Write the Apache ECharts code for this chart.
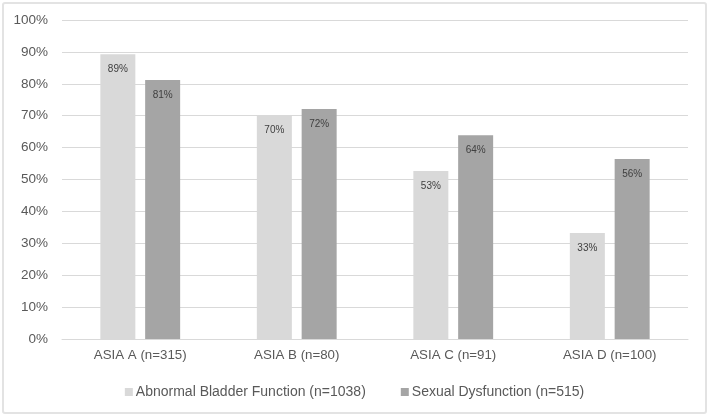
<!DOCTYPE html>
<html><head><meta charset="utf-8">
<script src="https://cdn.jsdelivr.net/npm/echarts@6/dist/echarts.min.js"></script>
<style>
html,body{margin:0;padding:0;background:#fff;}
#frame{position:absolute;left:2px;top:2px;width:701px;height:408px;border:2px solid #e3e3e3;border-radius:3px;}
#c{position:absolute;left:0;top:0;width:709px;height:416px;}
</style></head>
<body><div id="frame"></div><div id="c"></div>
<script>
const categories = ['ASIA A (n=315)', 'ASIA B (n=80)', 'ASIA C (n=91)', 'ASIA D (n=100)'];
const bladder = [89.3, 70.2, 52.7, 33.2];
const sexual = [81.2, 72.1, 63.9, 56.4];
const seriesNames = ['Abnormal Bladder Function (n=1038)', 'Sexual Dysfunction (n=515)'];
const yTicks = [0, 10, 20, 30, 40, 50, 60, 70, 80, 90, 100];

const chart = echarts.init(document.getElementById('c'), null, {renderer: 'canvas'});
const font = 'Liberation Sans, Arial, sans-serif';
const lbl = {show: true, position: 'insideTop', distance: 10, color: '#404040', fontSize: 10, fontFamily: font,
  formatter: p => Math.round(p.value) + '%'};
chart.setOption({
  animation: false,
  grid: {left: 62, right: 21, top: 20, bottom: 77},
  legend: {bottom: 12, left: 'center', itemWidth: 8, itemHeight: 8, itemGap: 35, icon: 'rect',
    textStyle: {color: '#595959', fontSize: 14, fontFamily: font, padding: [0, 0, 0, -2]},
    data: seriesNames},
  xAxis: {type: 'category', data: categories,
    axisLine: {lineStyle: {color: '#d9d9d9', width: 1}}, axisTick: {show: false},
    axisLabel: {color: '#595959', fontSize: 13.3, fontFamily: font, margin: 10}},
  yAxis: {type: 'value', min: yTicks[0], max: yTicks[yTicks.length - 1], interval: 10,
    axisLine: {show: false}, axisTick: {show: false},
    splitLine: {lineStyle: {color: '#d9d9d9', width: 1}},
    axisLabel: {color: '#595959', fontSize: 13.5, fontFamily: font, margin: 14, formatter: v => v + '%'}},
  series: [
    {name: seriesNames[0], type: 'bar', data: bladder, barWidth: 35, barGap: '28%',
      itemStyle: {color: '#d9d9d9'}, label: lbl},
    {name: seriesNames[1], type: 'bar', data: sexual, barWidth: 35,
      itemStyle: {color: '#a5a5a5'}, label: lbl}
  ]
});
</script></body></html>
